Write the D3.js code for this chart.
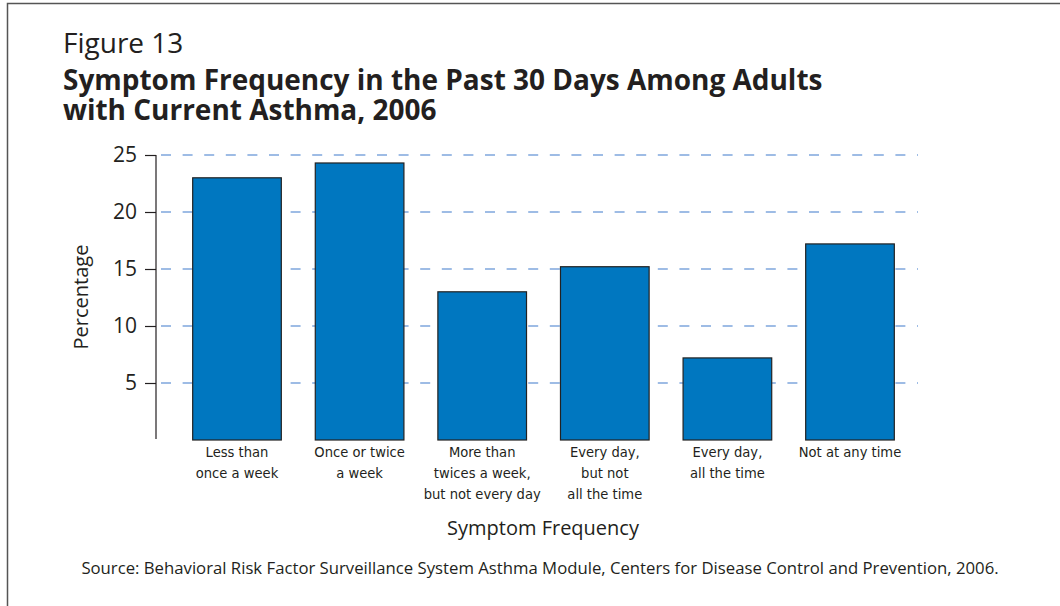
<!DOCTYPE html>
<html>
<head>
<meta charset="utf-8">
<script src="https://cdn.jsdelivr.net/npm/d3@7"></script>
<style>
  html, body { margin: 0; padding: 0; background: #fff; }
  svg { display: block; }
</style>
</head>
<body>
<svg id="chart" width="1060" height="606"></svg>
<script>
// Symptom frequency categories (multi-line labels) and percentages
const categories = [
  ["Less than", "once a week"],
  ["Once or twice", "a week"],
  ["More than", "twices a week,", "but not every day"],
  ["Every day,", "but not", "all the time"],
  ["Every day,", "all the time"],
  ["Not at any time"]
];
const percentages = [23.0, 24.3, 13.0, 15.2, 7.2, 17.2];
const yTicks = [5, 10, 15, 20, 25];

const figureLabel = "Figure 13";
const titleLines = [
  "Symptom Frequency in the Past 30 Days Among Adults",
  "with Current Asthma, 2006"
];
const xAxisTitle = "Symptom Frequency";
const yAxisTitle = "Percentage";
const sourceNote = "Source: Behavioral Risk Factor Surveillance System Asthma Module, Centers for Disease Control and Prevention, 2006.";

const svg = d3.select("#chart");
const textColor = "#231f20";
const sans = "'Open Sans', 'Noto Sans', sans-serif";
const narrow = "'Liberation Sans Narrow', 'DejaVu Sans Condensed', 'Roboto Condensed', sans-serif";

// Frame (left and top edges)
svg.append("path")
  .attr("d", "M7.5,606 V3.5 H1060")
  .attr("fill", "none")
  .attr("stroke", "#555")
  .attr("stroke-width", 1.5);

// Figure number and bold title in one text block
const title = svg.append("text")
  .attr("font-family", sans)
  .attr("fill", textColor);
title.append("tspan")
  .attr("x", 63).attr("y", 53)
  .attr("font-size", 28)
  .text(figureLabel);
const titleSpans = title.selectAll("tspan.title-line")
  .data(titleLines)
  .join("tspan")
  .attr("class", "title-line")
  .attr("x", 63)
  .attr("y", (d, i) => 90 + i * 30)
  .attr("font-size", 26)
  .attr("font-weight", "bold")
  .text(d => d);
// Fit the bold title to its column width
const w0 = titleSpans.nodes()[0].getComputedTextLength();
titleSpans.attr("font-size", 26 * 760 / w0);

// Scales
const x = d3.scaleBand()
  .domain(d3.range(categories.length))
  .range([175.7, 911.3])
  .paddingInner(0.277)
  .paddingOuter(0.1385);

const y = d3.scaleLinear()
  .domain([0, 25])
  .range([440, 155]);

// Dashed gridlines
svg.append("g")
  .selectAll("line")
  .data(yTicks)
  .join("line")
  .attr("x1", 161).attr("x2", 918)
  .attr("y1", d => y(d)).attr("y2", d => y(d))
  .attr("stroke", "#7fa7dd")
  .attr("stroke-width", 1.5)
  .attr("stroke-dasharray", "10,11.6");

// Bars
svg.append("g")
  .selectAll("rect")
  .data(percentages)
  .join("rect")
  .attr("x", (d, i) => x(i))
  .attr("y", d => y(d))
  .attr("width", x.bandwidth())
  .attr("height", d => y(0) - y(d))
  .attr("fill", "#0077c0")
  .attr("stroke", "#222")
  .attr("stroke-width", 1.2);

// Y axis
const yAxis = d3.axisLeft(y)
  .tickValues(yTicks)
  .tickSize(11)
  .tickPadding(8)
  .tickFormat(d3.format("d"));

const gy = svg.append("g")
  .attr("transform", "translate(156,0)")
  .call(yAxis);
gy.select(".domain").remove();
gy.append("line")
  .attr("x1", 0).attr("x2", 0)
  .attr("y1", y(25)).attr("y2", y(0) - 1)
  .attr("stroke", textColor).attr("stroke-width", 1.2);
gy.selectAll(".tick line").attr("stroke", textColor).attr("stroke-width", 1.2);
gy.selectAll(".tick text")
  .attr("font-family", sans)
  .attr("font-size", 21)
  .attr("fill", textColor);

// Category labels
const labels = svg.append("g")
  .selectAll("text")
  .data(categories)
  .join("text")
  .attr("text-anchor", "middle")
  .attr("font-family", narrow)
  .attr("font-size", 14.6)
  .attr("fill", textColor)
  .attr("transform", (d, i) => `translate(${x(i) + x.bandwidth() / 2},457)`);
labels.selectAll("tspan")
  .data(d => d)
  .join("tspan")
  .attr("x", 0)
  .attr("y", (d, j) => j * 21)
  .text(d => d);

// Axis titles
svg.append("text")
  .attr("x", 543).attr("y", 535)
  .attr("text-anchor", "middle")
  .attr("font-family", sans).attr("font-size", 20)
  .attr("fill", textColor)
  .text(xAxisTitle);

svg.append("text")
  .attr("transform", "translate(88,297) rotate(-90)")
  .attr("text-anchor", "middle")
  .attr("font-family", sans).attr("font-size", 20)
  .attr("fill", textColor)
  .text(yAxisTitle);

// Source note, sized to span the chart width
const src = svg.append("text")
  .attr("x", 540).attr("y", 574)
  .attr("text-anchor", "middle")
  .attr("font-family", sans).attr("font-size", 16)
  .attr("fill", textColor)
  .text(sourceNote);
const ws = src.node().getComputedTextLength();
src.attr("font-size", 16 * 918 / ws);
</script>
</body>
</html>
